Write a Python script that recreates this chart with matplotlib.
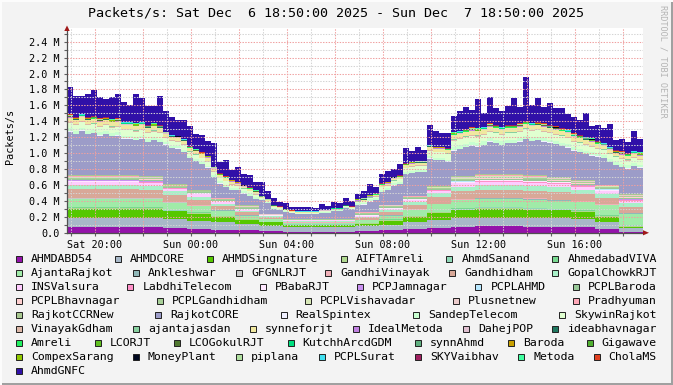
import numpy as np
import matplotlib.pyplot as plt
from matplotlib.patches import Rectangle, Polygon

W, H = 673, 385
plt.rcParams['font.family'] = 'DejaVu Sans Mono'
plt.rcParams['lines.scale_dashes'] = False

# ---- data (Mpps), time starts Sat 18:50 ----
# hourly values (24)
ahmdabd54 = [.07, .07, .07, .07, .06, .05, .04, .03, .02, .01, .01, .01, .02, .03, .05, .06, .07, .08, .08, .07, .07, .07, .05, .005]
ahmdcore = [.12, .12, .12, .12, .11, .10, .09, .08, .07, .06, .06, .06, .06, .07, .08, .10, .11, .11, .11, .11, .11, .10, .09, .06]
ahmdsingnature = [.11, .11, .11, .11, .10, .09, .07, .05, .04, .03, .03, .03, .03, .05, .07, .09, .10, .11, .11, .11, .10, .09, .06, .01]
ajantarajkot = [.10, .10, .10, .10, .09, .08, .06, .04, .03, .02, .02, .02, .03, .05, .07, .09, .10, .10, .10, .10, .10, .10, .12, .14]
gandhidham = [.11, .11, .11, .10, .09, .07, .05, .03, .02, .01, .01, .01, .02, .04, .06, .08, .10, .10, .10, .10, .10, .09, .08, .07]
gopalchowkrjt = [.05, .05, .05, .05, .05, .04, .03, .02, .015, .01, .01, .01, .015, .02, .03, .05, .06, .06, .06, .06, .06, .05, .05, .05]
insvalsura = [.04, .04, .04, .04, .03, .03, .02, .015, .01, .005, .005, .005, .01, .015, .025, .035, .04, .04, .04, .04, .04, .04, .035, .03]
skywinrajkot = [.07, .07, .07, .07, .06, .05, .04, .03, .015, .008, .008, .01, .015, .03, .05, .07, .08, .08, .08, .08, .08, .07, .06, .06]
synneforjt = [.05, .05, .05, .05, .04, .04, .03, .02, .01, .005, .005, .005, .01, .02, .03, .04, .05, .05, .05, .05, .05, .05, .04, .04]

# 15-minute values (96)
rajkotcore = [.55, .52, .56, .52, .53, .50, .52, .49, .50, .46, .46, .44, .47, .43, .45, .43,
              .50, .46, .45, .41, .40, .36, .32, .28, .26, .18, .14, .10, .19, .15, .12, .08,
              .18, .14, .07, .05, .09, .07, .06, .06, .06, .06, .08, .08, .10, .10, .14, .12,
              .08, .09, .13, .15, .16, .18, .24, .26, .27, .29, .30, .30, .35, .33, .33, .31,
              .32, .34, .36, .38, .35, .37, .41, .39, .37, .39, .39, .41, .45, .43, .44, .42,
              .43, .41, .39, .37, .37, .35, .33, .31, .35, .33, .28, .24, .34, .32, .35, .33]
ahmdgnfc = [.34, .26, .22, .28, .33, .27, .22, .28, .30, .24, .21, .36, .30, .24, .22, .36,
            .26, .22, .20, .24, .25, .19, .22, .18, .30, .14, .20, .12, .18, .14, .15, .11,
            .18, .10, .08, .06, .07, .05, .05, .05, .06, .04, .07, .05, .08, .06, .09, .07,
            .06, .08, .13, .07, .11, .13, .10, .14, .19, .13, .17, .13, .25, .19, .17, .19,
            .20, .24, .28, .22, .36, .17, .33, .21, .20, .24, .34, .20, .55, .22, .30, .20,
            .27, .23, .25, .19, .21, .19, .30, .16, .20, .18, .28, .12, .16, .14, .24, .16]

# 4-hour block values (6)
aiftamreli = [.009, .006, .002, .006, .010, .009]
ahmdsanand = [.007, .005, .002, .005, .008, .007]
ahmedabadviva = [.007, .005, .002, .005, .008, .007]
ankleshwar = [.005, .003, .001, .003, .005, .005]
gfgnlrjt = [.004, .002, .001, .002, .004, .004]
gandhivinayak = [.005, .003, .001, .003, .005, .005]
labdhitelecom = [.004, .002, .001, .002, .004, .004]
pbabarjt = [.011, .007, .002, .007, .012, .011]
pcpjamnagar = [.004, .002, .001, .002, .004, .004]
pcplahmd = [.004, .002, .001, .002, .004, .004]
pcplbaroda = [.013, .009, .003, .009, .015, .013]
pcplbhavnagar = [.006, .004, .001, .004, .007, .006]
pcplgandhidham = [.013, .009, .003, .009, .015, .013]
pcplvishavadar = [.007, .005, .002, .005, .008, .007]
plusnetnew = [.006, .004, .001, .004, .007, .006]
pradhyuman = [.004, .002, .001, .002, .004, .004]
rajkotccrnew = [.011, .007, .002, .007, .012, .011]
realspintex = [.005, .003, .001, .003, .005, .005]
sandeptelecom = [.036, .024, .008, .024, .040, .036]
vinayakgdham = [.009, .006, .002, .006, .010, .009]
ajantajasdan = [.005, .003, .001, .003, .005, .005]
idealmetoda = [.003, .002, .001, .002, .003, .003]
dahejpop = [.003, .002, .001, .002, .003, .003]
ideabhavnagar = [.003, .002, .001, .002, .003, .003]
amreli = [.003, .002, .001, .002, .003, .003]
lcorjt = [.002, .001, .0005, .001, .002, .002]
lcogokulrjt = [.002, .001, .0005, .001, .002, .002]
kutchharcdgdm = [.002, .001, .0005, .001, .002, .002]
synnahmd = [.002, .001, .0005, .001, .002, .002]
baroda = [.002, .001, .0005, .001, .002, .002]
gigawave = [.002, .001, .0005, .001, .002, .002]
compexsarang = [.002, .001, .0005, .001, .002, .002]
moneyplant = [.001, .001, .0005, .001, .001, .001]
piplana = [.002, .001, .0005, .001, .002, .002]
pcplsurat = [.003, .002, .001, .002, .003, .003]
skyvaibhav = [.005, .003, .001, .003, .005, .005]
metoda = [.002, .001, .0005, .001, .002, .002]
cholams = [.003, .002, .001, .002, .003, .003]

labels = ['AHMDABD54', 'AHMDCORE', 'AHMDSingnature', 'AIFTAmreli', 'AhmdSanand', 'AhmedabadVIVA',
          'AjantaRajkot', 'Ankleshwar', 'GFGNLRJT', 'GandhiVinayak', 'Gandhidham', 'GopalChowkRJT',
          'INSValsura', 'LabdhiTelecom', 'PBabaRJT', 'PCPJamnagar', 'PCPLAHMD', 'PCPLBaroda',
          'PCPLBhavnagar', 'PCPLGandhidham', 'PCPLVishavadar', 'Plusnetnew', 'Pradhyuman',
          'RajkotCCRNew', 'RajkotCORE', 'RealSpintex', 'SandepTelecom', 'SkywinRajkot',
          'VinayakGdham', 'ajantajasdan', 'synneforjt', 'IdealMetoda', 'DahejPOP', 'ideabhavnagar',
          'Amreli', 'LCORJT', 'LCOGokulRJT', 'KutchhArcdGDM', 'synnAhmd', 'Baroda', 'Gigawave',
          'CompexSarang', 'MoneyPlant', 'piplana', 'PCPLSurat', 'SKYVaibhav', 'Metoda', 'CholaMS',
          'AhmdGNFC']
series = [ahmdabd54, ahmdcore, ahmdsingnature, aiftamreli, ahmdsanand, ahmedabadviva,
          ajantarajkot, ankleshwar, gfgnlrjt, gandhivinayak, gandhidham, gopalchowkrjt,
          insvalsura, labdhitelecom, pbabarjt, pcpjamnagar, pcplahmd, pcplbaroda,
          pcplbhavnagar, pcplgandhidham, pcplvishavadar, plusnetnew, pradhyuman,
          rajkotccrnew, rajkotcore, realspintex, sandeptelecom, skywinrajkot,
          vinayakgdham, ajantajasdan, synneforjt, idealmetoda, dahejpop, ideabhavnagar,
          amreli, lcorjt, lcogokulrjt, kutchharcdgdm, synnahmd, baroda, gigawave,
          compexsarang, moneyplant, piplana, pcplsurat, skyvaibhav, metoda, cholams,
          ahmdgnfc]
colors = ['#9412aa', '#a8b8c8', '#55c800', '#b0d890', '#90d8b8', '#78d890',
          '#a0eba8', '#90b8b8', '#c8c8c8', '#f0b0b8', '#d8a898', '#a8f0c8',
          '#ffccff', '#ff90c8', '#ffe8ff', '#c890f0', '#b8e8ff', '#98c898',
          '#ffd0d0', '#a8d098', '#d8e8b8', '#eccccc', '#ffa8b8',
          '#a8c890', '#9c9cc8', '#f0f0ff', '#c8ffd0', '#e0ffd0',
          '#ddb8a8', '#88d0a0', '#f0e8a0', '#c080e0', '#e0c0d0', '#207860',
          '#20f060', '#60c020', '#507830', '#00e080', '#60b080', '#c8a000', '#50b030',
          '#90c800', '#000820', '#b0e0a0', '#40e0f0', '#a02060', '#40ffa0', '#e04020',
          '#3010a8']
legend_rows = [6, 6, 6, 5, 5, 6, 7, 7, 1]
xlabels = ['Sat 20:00', 'Sun 00:00', 'Sun 04:00', 'Sun 08:00', 'Sun 12:00', 'Sun 16:00']

# ---- expand everything to the common 15-minute grid ----
nbins = 96
edges = np.arange(nbins + 1) * 0.25
ys = []
for s in series:
    a = np.asarray(s, dtype=float)
    a = np.repeat(a, nbins // len(a))
    ys.append(np.append(a, a[-1]))


def fx(x):
    return x / W


def fy(y):
    return 1 - y / H


fig = plt.figure(figsize=(W / 100, H / 100), dpi=100, facecolor='#f3f3f3')
top_px, bot_px = 28, 232.7
ppm = 79.58  # pixels per Mpps
ax = fig.add_axes([fx(67), fy(bot_px), 576 / W, (bot_px - top_px) / H])
ax.set_facecolor('white')
ax.stackplot(edges, *ys, colors=colors, step='post', linewidth=0, antialiased=False, zorder=1)
ax.set_xlim(0, 24)
ax.set_ylim(0, (bot_px - top_px) / ppm)

# grid on top of the data, rrdtool style
off = 10 / 60
for h in np.arange(off, 24, 1.0):
    major = round(h - off) % 2 == 1
    ax.axvline(h, color='#f0a0a0' if major else '#d4d4d4', lw=0.75,
               ls=(0, (1, 1)), zorder=3)
for v in np.arange(0.1, 2.55, 0.1):
    major = round(v * 10) % 2 == 0
    ax.axhline(v, color='#f0a0a0' if major else '#d4d4d4', lw=0.75,
               ls=(0, (1, 1)), zorder=3)

ax.set_xticks(np.arange(off + 1, 24, 4.0))
ax.set_xticklabels(xlabels)
ax.set_xticks(np.arange(off, 24, 1.0), minor=True)
yt = np.arange(0, 2.45, 0.2)
ax.set_yticks(yt)
ax.set_yticklabels(['0.0' if v == 0 else f'{v:.1f} M' for v in yt])
ax.set_yticks(np.arange(0, 2.55, 0.1), minor=True)
ax.tick_params(which='both', length=2.5, width=0.8, color='#606060', direction='out')
ax.tick_params(axis='x', labelsize=7.3, pad=2.5)
ax.tick_params(axis='y', labelsize=7.3, pad=3)
for side in ['top', 'right']:
    ax.spines[side].set_visible(False)
for side in ['left', 'bottom']:
    ax.spines[side].set_color('#505050')
    ax.spines[side].set_linewidth(0.9)
    ax.spines[side].set_zorder(4)

# axis arrows
fig.add_artist(Polygon([(fx(64.3), fy(31)), (fx(69.7), fy(31)), (fx(67), fy(25.5))],
                       closed=True, transform=fig.transFigure, color='#a01818', lw=0))
fig.add_artist(Polygon([(fx(643), fy(230.2)), (fx(643), fy(235.4)), (fx(649), fy(232.8))],
                       closed=True, transform=fig.transFigure, color='#a01818', lw=0))

# titles
fig.text(0.5, fy(13.5), 'Packets/s: Sat Dec  6 18:50:00 2025 - Sun Dec  7 18:50:00 2025',
         ha='center', va='center', fontsize=9.6)
fig.text(fx(10), fy(136), 'Packets/s', rotation=90, ha='center', va='center', fontsize=7.3)
fig.text(fx(663), fy(5), 'RRDTOOL / TOBI OETIKER', rotation=270, ha='center', va='top',
         fontsize=6.1, color='#b4b4b4')

# legend, justified rows
fs_leg = 8.25
cw = fs_leg * 0.6021 * 100 / 72
left, right = 16, 657
idx = 0
for r, n in enumerate(legend_rows):
    y = 259 + 14 * r
    names = labels[idx:idx + n]
    widths = [15 + len(t) * cw for t in names]
    gap = (right - left - sum(widths)) / (n - 1) if n > 1 and r < len(legend_rows) - 1 else 0
    x = left
    for k, t in enumerate(names):
        fig.add_artist(Rectangle((fx(x), fy(y + 3)), 6 / W, 6 / H, transform=fig.transFigure,
                                 facecolor=colors[idx + k], edgecolor='#202020', lw=0.7))
        fig.text(fx(x + 15), fy(y), t, ha='left', va='center', fontsize=fs_leg)
        x += widths[k] + gap
    idx += n

# frame
fig.add_artist(Rectangle((0, 0), 1, 2 / H, transform=fig.transFigure, color='#a0a0a0', lw=0))
fig.add_artist(Rectangle((1 - 2 / W, 0), 2 / W, 1, transform=fig.transFigure, color='#a0a0a0', lw=0))
fig.add_artist(Rectangle((0, 1 - 2 / H), 1, 2 / H, transform=fig.transFigure, color='#fcfcfc', lw=0))
fig.add_artist(Rectangle((0, 0), 2 / W, 1, transform=fig.transFigure, color='#fcfcfc', lw=0))

fig.savefig('out.png', dpi=100, facecolor=fig.get_facecolor())
